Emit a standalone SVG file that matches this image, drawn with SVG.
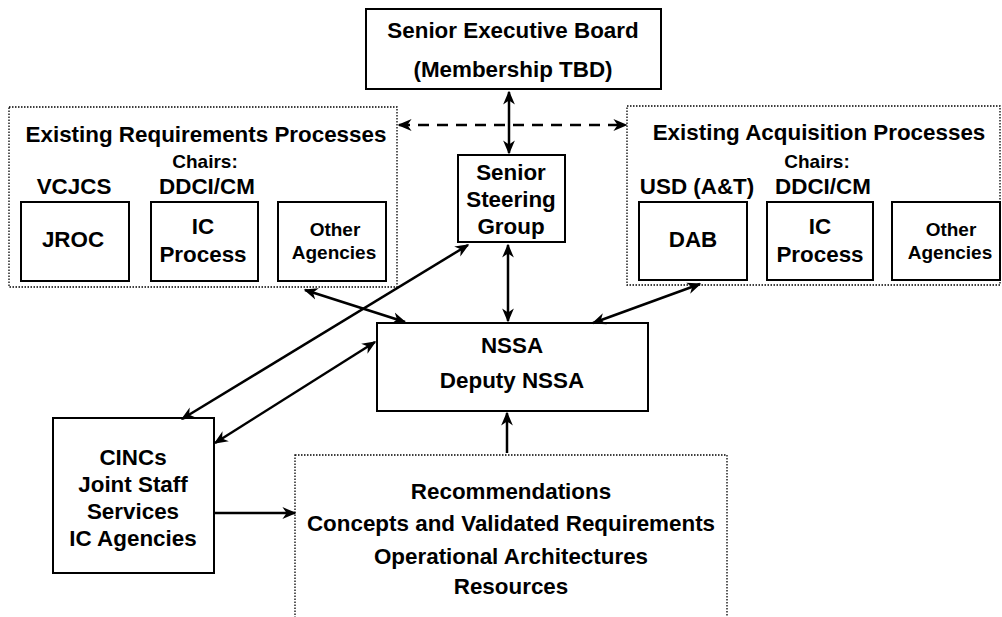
<svg xmlns="http://www.w3.org/2000/svg" width="1002" height="617" viewBox="0 0 1002 617">
<defs>
<marker id="ahb" viewBox="0 0 10 10" refX="9" refY="5" markerWidth="14" markerHeight="14" orient="auto-start-reverse" markerUnits="userSpaceOnUse">
<path d="M0,0.8 L10,5 L0,9.2 L3,5 z" fill="#000"/>
</marker>
<style>
.box{fill:#fff;stroke:#000;stroke-width:2}
.dot{fill:none;stroke:#000;stroke-width:1.3;stroke-dasharray:1.5 1.5}
.t{font-family:"Liberation Sans",Arial,sans-serif;font-weight:bold;fill:#000;text-anchor:middle}
.l{font-size:22.4px}
.m{font-size:19px}
.s{font-size:19px}
.c{stroke:#000;stroke-width:2.5;fill:none;marker-start:url(#ahb);marker-end:url(#ahb)}
.c1{stroke:#000;stroke-width:2.5;fill:none;marker-end:url(#ahb)}
.dash{stroke:#000;stroke-width:2.5;fill:none;stroke-dasharray:11 8;marker-start:url(#ahb);marker-end:url(#ahb)}
</style>
</defs>
<rect width="1002" height="617" fill="#fff"/>

<g id="seb">
<rect class="box" x="366" y="9" width="295" height="80"/>
<text class="t l" x="513" y="38">Senior Executive Board</text>
<text class="t l" x="513" y="77">(Membership TBD)</text>
</g>

<g id="req">
<rect class="dot" x="9" y="107" width="388" height="180"/>
<text class="t l" x="206" y="142">Existing Requirements Processes</text>
<text class="t m" x="205" y="168">Chairs:</text>
<text class="t l" x="74" y="194">VCJCS</text>
<text class="t l" x="207" y="194">DDCI/CM</text>
</g>
<g id="jroc">
<rect class="box" x="21" y="202" width="108" height="79"/>
<text class="t l" x="73" y="247">JROC</text>
</g>
<g id="icp1">
<rect class="box" x="151" y="202" width="107" height="79"/>
<text class="t l" x="203" y="234">IC</text>
<text class="t l" x="203" y="262">Process</text>
</g>
<g id="oa1">
<rect class="box" x="278" y="202" width="108" height="79"/>
<text class="t s" x="335" y="236">Other</text>
<text class="t s" x="334" y="259">Agencies</text>
</g>

<g id="ssg">
<rect class="box" x="458" y="155" width="107" height="87"/>
<text class="t l" x="511" y="180">Senior</text>
<text class="t l" x="511" y="207">Steering</text>
<text class="t l" x="511" y="234">Group</text>
</g>

<g id="acq">
<rect class="dot" x="627" y="106" width="373" height="179"/>
<text class="t l" x="819" y="140">Existing Acquisition Processes</text>
<text class="t m" x="817" y="168">Chairs:</text>
<text class="t l" x="697" y="194">USD (A&amp;T)</text>
<text class="t l" x="823" y="194">DDCI/CM</text>
</g>
<g id="dab">
<rect class="box" x="639" y="202" width="108" height="78"/>
<text class="t l" x="693" y="247">DAB</text>
</g>
<g id="icp2">
<rect class="box" x="767" y="202" width="106" height="78"/>
<text class="t l" x="820" y="234">IC</text>
<text class="t l" x="820" y="262">Process</text>
</g>
<g id="oa2">
<rect class="box" x="892" y="202" width="108" height="78"/>
<text class="t s" x="951" y="236">Other</text>
<text class="t s" x="950" y="259">Agencies</text>
</g>

<g id="nssa">
<rect class="box" x="377" y="323" width="271" height="88"/>
<text class="t l" x="512" y="353">NSSA</text>
<text class="t l" x="512" y="388">Deputy NSSA</text>
</g>

<g id="cincs">
<rect class="box" x="53" y="418" width="161" height="155"/>
<text class="t l" x="133" y="465">CINCs</text>
<text class="t l" x="133" y="492">Joint Staff</text>
<text class="t l" x="133" y="519">Services</text>
<text class="t l" x="133" y="546">IC Agencies</text>
</g>

<g id="rec">
<rect class="dot" x="295" y="455" width="432" height="170"/>
<text class="t l" x="511" y="499">Recommendations</text>
<text class="t l" x="511" y="531">Concepts and Validated Requirements</text>
<text class="t l" x="511" y="564">Operational Architectures</text>
<text class="t l" x="511" y="594">Resources</text>
</g>

<g id="connectors">
<line class="c" x1="509" y1="92" x2="509" y2="153"/>
<line class="dash" x1="399" y1="125" x2="626" y2="125"/>
<line class="c" x1="508" y1="245" x2="508" y2="321"/>
<line class="c1" x1="507" y1="453" x2="507" y2="413"/>
<line class="c" x1="305" y1="290" x2="405" y2="322"/>
<line class="c" x1="468" y1="245" x2="182" y2="419"/>
<line class="c" x1="375" y1="342" x2="215" y2="443"/>
<line class="c" x1="700" y1="284" x2="593" y2="323"/>
<line class="c1" x1="214" y1="513" x2="295" y2="513"/>
</g>
</svg>
